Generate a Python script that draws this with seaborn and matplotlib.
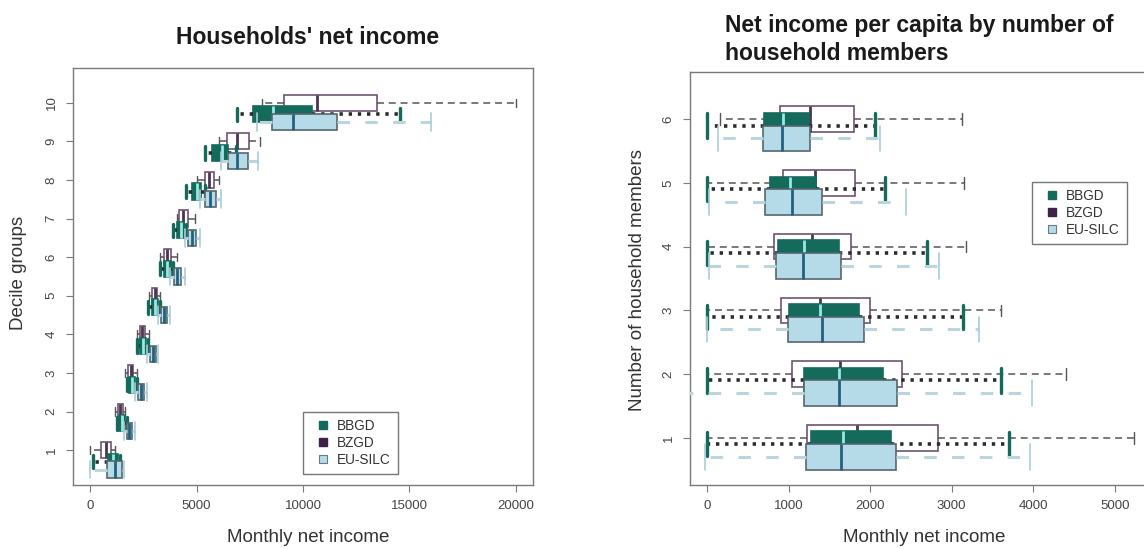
import matplotlib
matplotlib.use("Agg")
import matplotlib.pyplot as plt
from matplotlib.lines import Line2D
import seaborn as sns

# Five-number summaries per group: (lower whisker, Q1, median, Q3, upper whisker)
sources = ["BBGD", "BZGD", "EU-SILC"]

deciles = list(range(1, 11))
decile_bzgd = [
    (0, 500, 760, 1000, 1150),
    (1170, 1300, 1420, 1540, 1640),
    (1640, 1780, 1900, 2020, 2190),
    (2190, 2330, 2460, 2590, 2770),
    (2770, 2900, 3030, 3160, 3290),
    (3290, 3450, 3620, 3800, 4070),
    (4070, 4170, 4380, 4590, 4930),
    (5000, 5400, 5600, 5800, 6060),
    (6060, 6420, 6890, 7480, 7980),
    (8060, 9110, 10640, 13460, 20000),
]
decile_bbgd = [
    (150, 830, 1080, 1300, 1400),
    (1250, 1380, 1500, 1620, 1720),
    (1720, 1850, 1980, 2100, 2190),
    (2190, 2330, 2480, 2620, 2740),
    (2740, 2900, 3060, 3200, 3300),
    (3300, 3450, 3620, 3780, 3900),
    (3900, 4080, 4260, 4430, 4520),
    (4520, 4780, 5000, 5230, 5400),
    (5400, 5710, 6180, 6490, 6850),
    (6890, 7650, 8590, 10410, 14550),
]
decile_silc = [
    (0, 800, 1150, 1500, 1610),
    (1610, 1720, 1850, 1980, 2110),
    (2110, 2240, 2380, 2520, 2660),
    (2660, 2800, 2940, 3080, 3210),
    (3210, 3350, 3490, 3630, 3760),
    (3760, 3930, 4100, 4280, 4460),
    (4460, 4620, 4800, 4980, 5160),
    (5160, 5400, 5650, 5900, 6140),
    (6140, 6460, 6890, 7430, 7900),
    (7830, 8530, 9540, 11580, 16000),
]

members = list(range(1, 7))
members_bzgd = [
    (0, 1224, 1836, 2836, 5235),
    (0, 1044, 1632, 2390, 4398),
    (0, 902, 1379, 2004, 3602),
    (0, 820, 1289, 1766, 3174),
    (0, 930, 1318, 1816, 3146),
    (155, 897, 1265, 1796, 3121),
]
members_bbgd = [
    (0, 1277, 1665, 2256, 3705),
    (0, 1187, 1616, 2163, 3602),
    (0, 1004, 1391, 1869, 3133),
    (0, 869, 1187, 1624, 2697),
    (0, 767, 1012, 1330, 2183),
    (0, 698, 930, 1245, 2060),
]
members_silc = [
    (-30, 1208, 1644, 2317, 3962),
    (-600, 1187, 1624, 2326, 3982),
    (0, 991, 1411, 1930, 3329),
    (30, 848, 1175, 1644, 2848),
    (20, 706, 1044, 1408, 2440),
    (135, 685, 922, 1257, 2126),
]

sns.set_style("white")
plt.rcParams["font.family"] = ["Liberation Sans", "DejaVu Sans"]
plt.rcParams["lines.scale_dashes"] = False

TEAL = "#146b5c"
PURPLE = "#3f2248"
LIGHT = "#b5dbe9"

styles = {
    "BZGD": dict(face="white", edge="#6e5472", med="#4b3550",
                 whisk="#555555", wls=(0, (5, 3.5)), wlw=1.1,
                 cap="#555555", caplw=1.0),
    "BBGD": dict(face=TEAL, edge=TEAL, med="#9be7e6",
                 whisk="#2b2b2b", wls=(0, (2.4, 4.2)), wlw=2.6,
                 cap=TEAL, caplw=2.4),
    "EU-SILC": dict(face=LIGHT, edge="#56666d", med="#22607e",
                    whisk="#b9d5df", wls=(0, (9, 11)), wlw=2.2,
                    cap="#a9cdd8", caplw=1.2),
}


def draw_group(ax, positions, stats, style, width, capw, z):
    recs = [dict(whislo=s[0], q1=s[1], med=s[2], q3=s[3], whishi=s[4],
                 fliers=[]) for s in stats]
    ax.bxp(recs, positions=positions, widths=width, capwidths=capw,
           orientation="horizontal", patch_artist=True, showfliers=False,
           manage_ticks=False, zorder=z,
           boxprops=dict(facecolor=style["face"], edgecolor=style["edge"],
                         linewidth=1.2, zorder=z),
           medianprops=dict(color=style["med"], linewidth=2.0,
                            solid_capstyle="butt", zorder=z + 0.1),
           whiskerprops=dict(color=style["whisk"], linewidth=style["wlw"],
                             linestyle=style["wls"], zorder=z),
           capprops=dict(color=style["cap"], linewidth=style["caplw"],
                         zorder=z))


fig = plt.figure(figsize=(11.44, 5.49), dpi=100)
W, H = 1144.0, 549.0


def frame(px_left, px_top, px_right, px_bottom):
    return [px_left / W, 1 - px_bottom / H,
            (px_right - px_left) / W, (px_bottom - px_top) / H]


ax1 = fig.add_axes(frame(73, 68, 533, 485))
ax2 = fig.add_axes(frame(690, 72, 1151, 485))

# Left: deciles of household net income
draw_group(ax1, [d for d in deciles], decile_bzgd, styles["BZGD"],
           0.42, 0.22, 2)
draw_group(ax1, [d - 0.3 for d in deciles], decile_bbgd, styles["BBGD"],
           0.42, 0.34, 3)
draw_group(ax1, [d - 0.5 for d in deciles], decile_silc, styles["EU-SILC"],
           0.42, 0.46, 4)
ax1.set_xlim(-800, 20800)
ax1.set_ylim(0.1, 10.9)
ax1.set_xticks([0, 5000, 10000, 15000, 20000])
ax1.set_yticks(deciles)

# Right: per-capita income by household size
draw_group(ax2, [m for m in members], members_bzgd, styles["BZGD"],
           0.4, 0.18, 2)
draw_group(ax2, [m - 0.1 for m in members], members_bbgd, styles["BBGD"],
           0.4, 0.38, 3)
draw_group(ax2, [m - 0.3 for m in members], members_silc, styles["EU-SILC"],
           0.4, 0.4, 4)
ax2.set_xlim(-209, 5444)
ax2.set_ylim(0.26, 6.74)
ax2.set_xticks([0, 1000, 2000, 3000, 4000, 5000])
ax2.set_yticks(members)

for ax in (ax1, ax2):
    for sp in ax.spines.values():
        sp.set_color("#7a7a7a")
        sp.set_linewidth(1.0)
    ax.tick_params(axis="both", direction="out", length=5, width=0.8,
                   color="#7a7a7a", labelsize=9.5, labelcolor="#444444",
                   pad=6, left=True, bottom=True)
    for lab in ax.get_yticklabels():
        lab.set_rotation(90)
        lab.set_va("center")
    ax.set_facecolor("white")

label_kw = dict(fontsize=13.5, color="#333333")
ax1.set_xlabel("Monthly net income", va="center", **label_kw)
ax1.xaxis.set_label_coords((308 - 73) / 460, (485 - 537) / 417)
ax1.set_ylabel("Decile groups", va="center", **label_kw)
ax1.yaxis.set_label_coords((19 - 73) / 460, (485 - 273) / 417)

ax2.set_xlabel("Monthly net income", va="center", **label_kw)
ax2.xaxis.set_label_coords((924 - 690) / 461, (485 - 537) / 413)
ax2.set_ylabel("Number of household members", va="center", **label_kw)
ax2.yaxis.set_label_coords((637 - 690) / 461, (485 - 280) / 413)

title_kw = dict(fontsize=16.5, fontweight="bold", color="#1a1a1a",
                va="baseline")
fig.text(308 / W, 1 - 44 / H, "Households' net income", ha="center",
         **title_kw)
fig.text(725 / W, 1 - 32 / H, "Net income per capita by number of",
         ha="left", **title_kw)
fig.text(725 / W, 1 - 60 / H, "household members", ha="left", **title_kw)

handles = [
    Line2D([], [], linestyle="none", marker="s", markersize=6,
           markerfacecolor=TEAL, markeredgecolor=TEAL),
    Line2D([], [], linestyle="none", marker="s", markersize=6,
           markerfacecolor=PURPLE, markeredgecolor=PURPLE),
    Line2D([], [], linestyle="none", marker="s", markersize=6,
           markerfacecolor=LIGHT, markeredgecolor="#6a7a80",
           markeredgewidth=0.8),
]


def add_legend(ax, px_x, px_y):
    leg = ax.legend(handles, sources, loc="upper left",
                    bbox_to_anchor=(px_x / W, 1 - px_y / H),
                    bbox_transform=fig.transFigure, frameon=True,
                    fancybox=False, edgecolor="#555555", fontsize=9.8,
                    handlelength=1.95, handleheight=0.8, handletextpad=0.05,
                    borderpad=0.5, labelspacing=0.22, borderaxespad=0)
    leg.get_frame().set_linewidth(1.0)
    for t in leg.get_texts():
        t.set_color("#333333")
    return leg


add_legend(ax1, 303, 412)
add_legend(ax2, 1032, 182)

fig.savefig("out.png", dpi=100, facecolor="white")
